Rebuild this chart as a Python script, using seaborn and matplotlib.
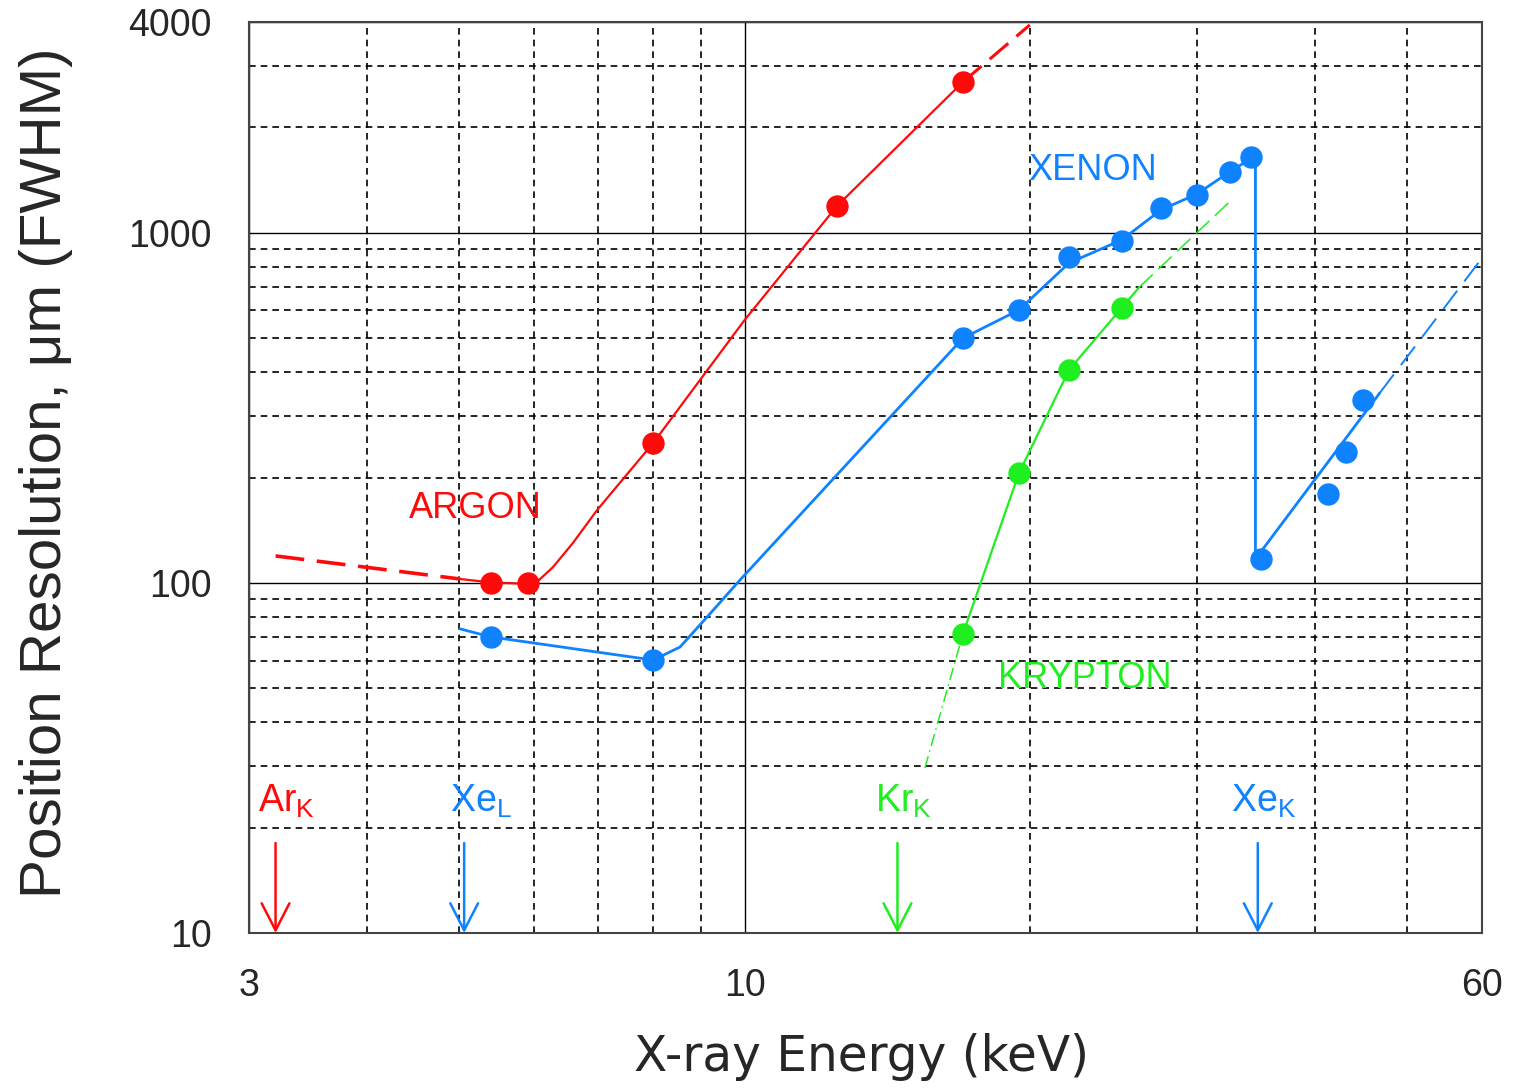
import numpy as np
import pandas as pd
import matplotlib
matplotlib.use("Agg")
import matplotlib.pyplot as plt
import seaborn as sns
from matplotlib.ticker import FixedLocator, FixedFormatter, NullFormatter

# ---------------- data ----------------
argon_pts_e = [5.40, 5.91, 8.01, 12.52, 17.0]
argon_pts_r = [100, 100, 251, 1193, 2696]
argon_fit_e = [5.01, 5.40, 5.91, 6.07, 6.28, 6.59, 6.99, 8.01, 10.0, 12.52, 17.0]
argon_fit_r = [102.6, 100.3, 99.4, 101.9, 111, 130, 161.5, 251, 563, 1193, 2696]
argon_low_e = [3.2, 5.01]
argon_low_r = [119.4, 102.6]
argon_high_e = [17.0, 20.0]
argon_high_r = [2696, 3924]

xenon_pts_e = [5.40, 8.01, 17.0, 19.48, 22.0, 25.0, 27.5, 30.0, 32.5, 34.2, 35.1, 41.3, 43.1, 44.9]
xenon_pts_r = [70.1, 60.2, 500, 602, 852, 948, 1177, 1282, 1492, 1646, 117, 179, 236, 333]
xenon_fit_e = [5.01, 5.40, 8.01, 8.55, 9.13, 9.89, 17.0, 19.48, 22.0, 25.0, 27.5, 30.0, 32.5, 34.3, 34.6, 34.6, 46.8]
xenon_fit_r = [73.9, 70.1, 60.2, 65.6, 79.9, 101.9, 500, 602, 820, 954, 1162, 1290, 1492, 1636, 1646, 117, 348.7]
xenon_high_e = [46.8, 60.0]
xenon_high_r = [348.7, 847]

krypton_pts_e = [17.0, 19.48, 22.0, 25.0]
krypton_pts_r = [71.5, 206, 406, 610]
krypton_fit_e = [17.0, 19.48, 22.0, 25.0, 26.1]
krypton_fit_r = [71.5, 206, 406, 610, 700]
krypton_low_e = [15.5, 17.0]
krypton_low_r = [29.6, 71.5]
krypton_high_e = [26.1, 32.4]
krypton_high_r = [700, 1217]

gas_names = ["ARGON", "XENON", "KRYPTON"]
gas_label_e = [5.195, 23.32, 22.87]
gas_label_r = [153.2, 1415, 50.1]

edge_main = ["Ar", "Xe", "Kr", "Xe"]
edge_sub = ["K", "L", "K", "K"]
edge_label_e = [3.066, 4.89, 13.73, 32.6]
edge_arrow_e = [3.2, 5.06, 14.5, 34.8]
edge_label_r = 22.2
edge_arrow_top = 18.07

x_major = [3, 10, 60]
x_minor = [4, 5, 6, 7, 8, 9, 20, 30, 40, 50]
y_major = [10, 100, 1000, 4000]
y_minor = [20, 30, 40, 50, 60, 70, 80, 90, 200, 300, 400, 500, 600, 700, 800, 900, 2000, 3000]

RED = "#ff0a0a"
BLUE = "#0f82ff"
GREEN = "#1fee1f"
edge_colors = [RED, BLUE, GREEN, BLUE]
gas_colors = [RED, BLUE, GREEN]

# ---------------- style ----------------
sns.set_style("white")
plt.rcParams["font.family"] = ["Liberation Sans", "DejaVu Sans"]
plt.rcParams["mathtext.fontset"] = "custom"
plt.rcParams["mathtext.rm"] = "Liberation Sans"
plt.rcParams["mathtext.it"] = "Liberation Sans:italic"
plt.rcParams["mathtext.bf"] = "Liberation Sans:bold"

fig = plt.figure(figsize=(15.13, 10.91), dpi=100)
ax = fig.add_axes([249 / 1513, 1 - 933 / 1091, 1233 / 1513, 911 / 1091])
ax.set_xscale("log")
ax.set_yscale("log")
ax.set_xlim(3, 60)
ax.set_ylim(10, 4000)

# ---------------- curves ----------------
def line(e, r, color, lw, ls="-"):
    sns.lineplot(x=e, y=r, ax=ax, color=color, lw=lw, linestyle=ls,
                 sort=False, estimator=None, zorder=3)

line(argon_low_e, argon_low_r, RED, 2.6, (0, (8, 3.5)))
line(argon_fit_e, argon_fit_r, RED, 1.6)
line(argon_high_e, argon_high_r, RED, 2.2, (0, (8, 3.5)))

line(xenon_fit_e, xenon_fit_r, BLUE, 2.0)
line(xenon_high_e, xenon_high_r, BLUE, 1.4, (0, (12, 6)))

line(krypton_low_e, krypton_low_r, GREEN, 1.1, (0, (8, 3, 1, 3)))
line(krypton_fit_e, krypton_fit_r, GREEN, 1.6)
line(krypton_high_e, krypton_high_r, GREEN, 1.1, (0, (12, 5)))

for e, r, c in [(argon_pts_e, argon_pts_r, RED),
                (xenon_pts_e, xenon_pts_r, BLUE),
                (krypton_pts_e, krypton_pts_r, GREEN)]:
    sns.scatterplot(x=e, y=r, ax=ax, color=c, s=260, linewidth=0, zorder=4)

# ---------------- labels ----------------
for name, e, r, c in zip(gas_names, gas_label_e, gas_label_r, gas_colors):
    ax.text(e, r, name, color=c, fontsize=26, ha="center", va="baseline", zorder=5)

for m, s, le, ae, c in zip(edge_main, edge_sub, edge_label_e, edge_arrow_e, edge_colors):
    ax.text(le, edge_label_r, r"$\mathrm{%s}_{\mathrm{%s}}$" % (m, s), color=c,
            fontsize=27, ha="left", va="baseline", zorder=5)
    ax.annotate("", xy=(ae, 10), xytext=(ae, edge_arrow_top),
                arrowprops=dict(arrowstyle="->,head_length=0.97,head_width=0.5",
                                color=c, lw=1.8, shrinkA=0, shrinkB=0,
                                mutation_scale=20), zorder=5)

# ---------------- axes / grid ----------------
ax.xaxis.set_major_locator(FixedLocator(x_major))
ax.xaxis.set_major_formatter(FixedFormatter([str(v) for v in x_major]))
ax.xaxis.set_minor_locator(FixedLocator(x_minor))
ax.xaxis.set_minor_formatter(NullFormatter())
ax.yaxis.set_major_locator(FixedLocator(y_major))
ax.yaxis.set_major_formatter(FixedFormatter([str(v) for v in y_major]))
ax.yaxis.set_minor_locator(FixedLocator(y_minor))
ax.yaxis.set_minor_formatter(NullFormatter())

ax.grid(True, which="major", color="black", lw=1.0, ls="-")
ax.grid(True, which="minor", color="black", lw=1.2, ls=(0, (4, 3)))
ax.set_axisbelow(True)

ax.tick_params(which="both", length=0)
ax.tick_params(axis="y", pad=27, labelsize=27)
ax.tick_params(axis="x", pad=25, labelsize=27)

for sp in ax.spines.values():
    sp.set_color("#444444")
    sp.set_linewidth(1.5)

ax.set_xlabel("X-ray Energy (keV)", fontsize=35, family=["DejaVu Sans"])
ax.xaxis.set_label_coords(0.497, -0.11)
ax.set_ylabel("Position Resolution, μm (FWHM)", fontsize=42)
ax.yaxis.set_label_coords(-0.143, 0.505)

fig.savefig("out.png", dpi=100)
